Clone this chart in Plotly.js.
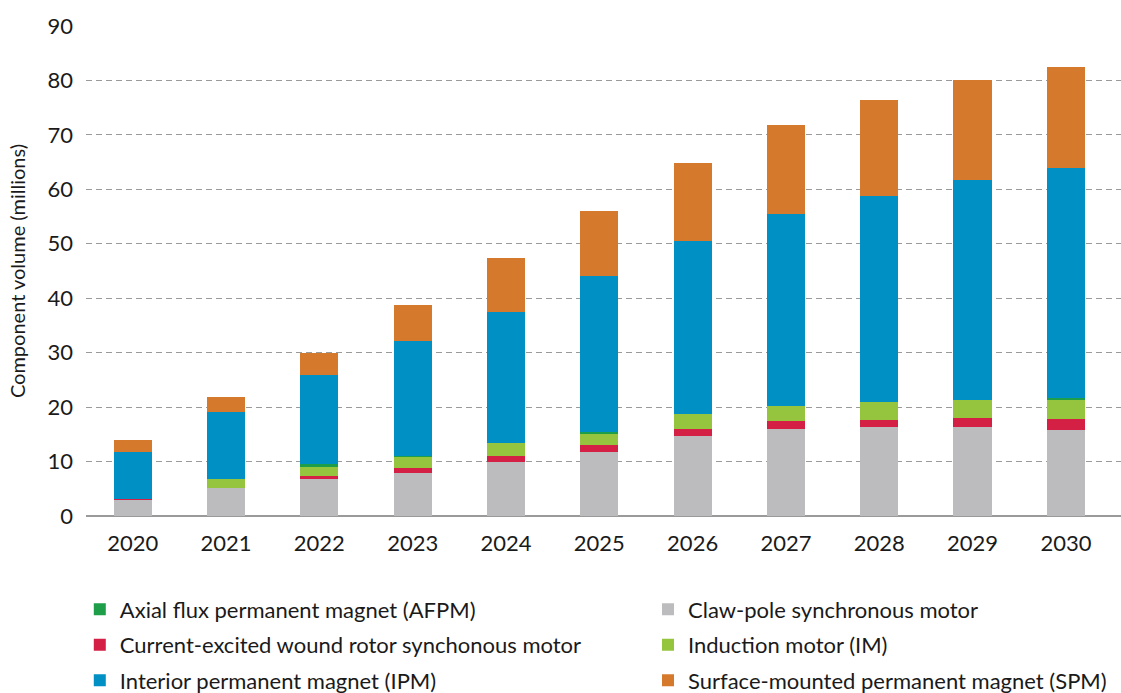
<!DOCTYPE html>
<html>
<head>
<meta charset="utf-8">
<script src="https://cdn.plot.ly/plotly-3.0.1.min.js"></script>
<style>
  html, body { margin: 0; padding: 0; background: #ffffff; }
  #chart { width: 1121px; height: 693px; }
</style>
</head>
<body>
<div id="chart"></div>
<script>
// Categories
const years = ['2020','2021','2022','2023','2024','2025','2026','2027','2028','2029','2030'];

// Series values (millions), stacked bottom to top
const clawPole = [3.0, 5.2, 6.8, 7.9, 9.9, 11.7, 14.7, 16.0, 16.3, 16.3, 15.8];
const woundRotor = [0.15, 0, 0.5, 0.9, 1.1, 1.3, 1.3, 1.4, 1.3, 1.7, 2.0];
const induction = [0, 1.6, 1.7, 2.0, 2.4, 2.0, 2.7, 2.8, 3.3, 3.3, 3.5];
const axialFlux = [0, 0, 0.6, 0.3, 0, 0.5, 0, 0, 0, 0, 0.4];
const interiorPM = [8.65, 12.3, 16.3, 21.0, 24.1, 28.6, 31.9, 35.2, 37.8, 40.4, 42.3];
const surfacePM = [2.1, 2.7, 4.0, 6.6, 9.8, 12.0, 14.2, 16.5, 17.8, 18.3, 18.4];

// Series names
const nameAFPM = 'Axial flux permanent magnet (AFPM)';
const nameClaw = 'Claw-pole synchronous motor';
const nameWound = 'Current-excited wound rotor synchonous motor';
const nameIM = 'Induction motor (IM)';
const nameIPM = 'Interior permanent magnet (IPM)';
const nameSPM = 'Surface-mounted permanent magnet (SPM)';

const font = 'Lato, "Open Sans", sans-serif';
const textColor = '#1a1a1a';

function bar(name, values, color, legendId, rank) {
  return {
    type: 'bar', x: years, y: values, name: name,
    marker: { color: color, line: { width: 0 } },
    legend: legendId, legendgroup: name, legendrank: rank,
    hoverinfo: 'skip'
  };
}

function legendBox(x) {
  return {
    orientation: 'v',
    xref: 'paper', x: x, xanchor: 'left',
    yref: 'container', y: 0.151, yanchor: 'top',
    traceorder: 'grouped',
    tracegroupgap: 4,
    bgcolor: 'rgba(0,0,0,0)', borderwidth: 0,
    font: { family: font, size: 22, color: textColor },
    itemclick: false, itemdoubleclick: false
  };
}

const data = [
  bar(nameClaw, clawPole, '#bcbcbe', 'legend2', 1),
  bar(nameWound, woundRotor, '#d42045', 'legend', 2),
  bar(nameIM, induction, '#95c43e', 'legend2', 2),
  bar(nameAFPM, axialFlux, '#1e9e48', 'legend', 1),
  bar(nameIPM, interiorPM, '#0090c4', 'legend', 3),
  bar(nameSPM, surfacePM, '#d57a2d', 'legend2', 3)
];

const layout = {
  width: 1121, height: 693,
  margin: { l: 86, r: 0, t: 26, b: 177 },
  paper_bgcolor: '#ffffff', plot_bgcolor: '#ffffff',
  barmode: 'stack',
  bargap: 0.59,
  font: { family: font, color: textColor, size: 22 },
  showlegend: true,
  legend: legendBox(-0.006),
  legend2: legendBox(0.543),
  xaxis: {
    type: 'category',
    range: [-0.5, 10.59],
    showgrid: false, showline: false, zeroline: false,
    ticks: '', ticklabelstandoff: 12,
    tickfont: { family: font, size: 22, color: textColor },
    fixedrange: true
  },
  yaxis: {
    range: [0, 90],
    tickvals: [0,10,20,30,40,50,60,70,80,90],
    showgrid: true, gridcolor: '#9a9a9a', gridwidth: 1, griddash: '6px,4px',
    zeroline: true, zerolinecolor: '#9a9a9a', zerolinewidth: 2.5,
    showline: false, ticks: '', ticklabelstandoff: 12,
    tickfont: { family: font, size: 22, color: textColor },
    title: { text: 'Component volume (millions)', font: { family: font, size: 20, color: textColor }, standoff: 16 },
    fixedrange: true
  }
};

Plotly.newPlot('chart', data, layout, { displayModeBar: false, staticPlot: true });
</script>
</body>
</html>
